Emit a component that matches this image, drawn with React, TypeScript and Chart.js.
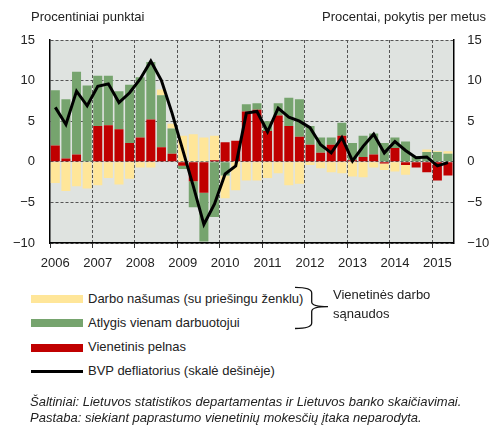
import React, { useEffect, useRef } from "react";
import { Chart, registerables } from "chart.js";

Chart.register(...registerables);

// Quarterly categories 2006 Q1 – 2015 Q2
const categories = [
  "2006 I", "2006 II", "2006 III", "2006 IV",
  "2007 I", "2007 II", "2007 III", "2007 IV",
  "2008 I", "2008 II", "2008 III", "2008 IV",
  "2009 I", "2009 II", "2009 III", "2009 IV",
  "2010 I", "2010 II", "2010 III", "2010 IV",
  "2011 I", "2011 II", "2011 III", "2011 IV",
  "2012 I", "2012 II", "2012 III", "2012 IV",
  "2013 I", "2013 II", "2013 III", "2013 IV",
  "2014 I", "2014 II", "2014 III", "2014 IV",
  "2015 I", "2015 II",
];

// Vienetinis pelnas (percentage points)
const unitProfit = [
  2.0, 0.4, 0.9, 0.0,
  4.4, 4.5, 4.0, 2.3,
  3.0, 5.2, 1.8, 1.0,
  -0.5, -2.4, -3.8, 0.2,
  2.4, 2.6, 6.2, 6.4,
  3.8, 5.7, 4.4, 3.1,
  2.1, 1.1, 2.1, 3.2,
  0.2, 0.6, 0.9, -0.2,
  1.7, -0.4, -0.7, -1.3,
  -2.3, -1.7,
];

// Atlygis vienam darbuotojui (percentage points)
const compensation = [
  6.8, 7.3, 10.2, 9.4,
  6.2, 6.1, 4.7, 7.2,
  7.4, 7.1, 6.4, 3.1,
  -0.4, -3.2, -6.0, -6.8,
  -1.7, 0.0, 0.9, 0.8,
  1.2, 1.5, 3.5, 4.6,
  2.3, 1.9, 0.9, 1.6,
  2.1, 2.6, 2.6, 2.3,
  1.3, 2.5, 0.7, 1.2,
  1.2, 1.0,
];

// Darbo našumas (su priešingu ženklu) (percentage points)
const productivity = [
  -2.6, -3.6, -3.0, -3.3,
  -2.9, -2.0, -2.8, -2.1,
  -0.7, -0.7, 0.7, 0.6,
  3.2, 3.4, 3.0, 3.0,
  -2.8, -3.5, -2.3, -2.3,
  -2.0, -1.4, -2.9, -2.7,
  -0.4, -0.8, -1.3, -1.4,
  -1.8, -1.9, -0.7, -0.8,
  -1.2, -1.2, 0.0, 0.3,
  0.1, 0.3,
];

// BVP defliatorius (percent, y/y, right scale)
const deflator = [
  6.7, 4.6, 8.7, 6.9,
  9.3, 9.6, 7.3, 8.5,
  10.2, 12.4, 10.0, 6.0,
  1.5, -3.0, -7.7, -5.2,
  -1.5, -0.5, 6.0, 6.2,
  3.7, 6.6, 5.5, 5.0,
  4.2, 2.1, 1.1, 3.0,
  0.1, 1.9, 3.4, 1.1,
  2.5, 1.4, 0.5, 0.6,
  -0.5, -0.1,
];

const yMin = -10;
const yMax = 15;
const yStep = 5;

const YELLOW = "#FFE699";
const GREEN = "#76A46E";
const RED = "#C00000";
const PLOT_BG = "#DFE3E0";
const TEXT = "#222222";
const FONT = "'Liberation Sans', Arial, sans-serif";

const plotBackground = {
  id: "plotBackground",
  beforeDraw(chart: any) {
    const { ctx, chartArea } = chart;
    if (!chartArea) return;
    ctx.save();
    ctx.fillStyle = PLOT_BG;
    ctx.fillRect(chartArea.left, chartArea.top, chartArea.right - chartArea.left, chartArea.bottom - chartArea.top);
    ctx.restore();
  },
};

const fmt = (v: number) => (v < 0 ? "\u2212" + Math.abs(v) : String(v));

function ChartCanvas() {
  const ref = useRef<HTMLCanvasElement | null>(null);
  useEffect(() => {
    if (!ref.current) return;
    const tickFont = { family: FONT, size: 13 };
    const chart = new Chart(ref.current, {
      type: "bar",
      data: {
        labels: categories,
        datasets: [
          {
            type: "line",
            label: "BVP defliatorius (skalė dešinėje)",
            data: deflator,
            yAxisID: "y2",
            borderColor: "#000000",
            borderWidth: 3,
            pointRadius: 0,
            tension: 0,
            order: -1,
            stack: "line",
          } as any,
          {
            label: "Vienetinis pelnas",
            data: unitProfit,
            backgroundColor: RED,
            yAxisID: "y",
            stack: "s",
            borderWidth: 0,
          },
          {
            label: "Atlygis vienam darbuotojui",
            data: compensation,
            backgroundColor: GREEN,
            yAxisID: "y",
            stack: "s",
            borderWidth: 0,
          },
          {
            label: "Darbo našumas (su priešingu ženklu)",
            data: productivity,
            backgroundColor: YELLOW,
            yAxisID: "y",
            stack: "s",
            borderWidth: 0,
          },
        ],
      },
      options: {
        responsive: false,
        animation: false,
        events: [],
        layout: { padding: { top: 40, left: 0, right: 0, bottom: 0 } },
        datasets: { bar: { barPercentage: 0.85, categoryPercentage: 1 } },
        plugins: { legend: { display: false }, tooltip: { enabled: false }, title: { display: false } },
        scales: {
          x: {
            stacked: true,
            grid: {
              offset: true,
              color: (c: any) => (c.index % 4 === 0 && c.index > 0 ? "#555555" : "rgba(0,0,0,0)"),
              lineWidth: 1,
              drawTicks: true,
              tickLength: 5,
              tickColor: (c: any) => (c.index % 4 === 0 ? "#333333" : "rgba(0,0,0,0)"),
              tickBorderDash: [],
              borderDash: [3, 2],
            } as any,
            border: { display: true, color: "#000000", width: 1.5, dash: [3, 2] },
            ticks: {
              autoSkip: false,
              maxRotation: 0,
              minRotation: 0,
              padding: 8,
              color: TEXT,
              font: tickFont,
              callback: (_v: any, i: number) => (i % 4 === 0 ? categories[i].slice(0, 4) : ""),
            },
            afterFit: (s: any) => {
              s.height = 32;
            },
          },
          y: {
            stacked: true,
            position: "left",
            min: yMin,
            max: yMax,
            ticks: { stepSize: yStep, padding: 15, color: TEXT, font: tickFont, callback: (v: any) => fmt(Number(v)) },
            grid: { color: "#555555", lineWidth: 1, drawTicks: false, borderDash: [3, 2] } as any,
            border: { display: true, color: "#000000", width: 1.5, dash: [3, 2] },
            afterFit: (s: any) => {
              s.width = 50;
            },
          },
          y2: {
            position: "right",
            min: yMin,
            max: yMax,
            ticks: { stepSize: yStep, padding: 14, color: TEXT, font: tickFont, callback: (v: any) => fmt(Number(v)) },
            grid: { display: false, drawTicks: false },
            border: { display: true, color: "#000000", width: 1.5 },
            afterFit: (s: any) => {
              s.width = 36.7;
            },
          },
        },
      } as any,
      plugins: [plotBackground],
    });
    return () => chart.destroy();
  }, []);
  return <canvas ref={ref} width={490} height={275} style={{ position: "absolute", left: 0, top: 0, display: "block" }} />;
}

const textStyle: React.CSSProperties = {
  position: "absolute",
  fontFamily: FONT,
  fontSize: 13,
  lineHeight: "16px",
  color: TEXT,
  whiteSpace: "nowrap",
};

const legendItems = [
  { label: "Darbo našumas (su priešingu ženklu)", color: YELLOW, kind: "bar", cy: 299.3 },
  { label: "Atlygis vienam darbuotojui", color: GREEN, kind: "bar", cy: 323.3 },
  { label: "Vienetinis pelnas", color: RED, kind: "bar", cy: 347.7 },
  { label: "BVP defliatorius (skalė dešinėje)", color: "#000000", kind: "line", cy: 371.7 },
];

export default function App() {
  return (
    <div style={{ position: "absolute", left: 0, top: 0, width: 490, height: 426, background: "#ffffff", overflow: "hidden" }}>
      <ChartCanvas />
      <div style={{ ...textStyle, left: 31, top: 9 }}>Procentiniai punktai</div>
      <div style={{ ...textStyle, right: 4, top: 9 }}>Procentai, pokytis per metus</div>
      {legendItems.map((it) => (
        <React.Fragment key={it.label}>
          <div
            style={{
              position: "absolute",
              left: 31,
              width: 52,
              top: it.kind === "bar" ? it.cy - 4 : it.cy - 1.25,
              height: it.kind === "bar" ? 8 : 2.5,
              background: it.color,
            }}
          />
          <div style={{ ...textStyle, left: 88, top: it.cy - 8.5 }}>{it.label}</div>
        </React.Fragment>
      ))}
      <svg style={{ position: "absolute", left: 0, top: 0 }} width={490} height={426}>
        <path
          d="M295,287.3 Q311.7,287.3 311.7,293 L311.7,302 Q311.7,306.7 328,306.7 Q311.7,306.7 311.7,311.5 L311.7,323 Q311.7,328.5 295,328.5"
          fill="none"
          stroke="#111"
          strokeWidth={1.3}
        />
      </svg>
      <div style={{ ...textStyle, left: 333, top: 286.5 }}>Vienetinės darbo</div>
      <div style={{ ...textStyle, left: 333, top: 306 }}>sąnaudos</div>
      <div style={{ ...textStyle, left: 30, top: 393.5, fontStyle: "italic" }}>
        Šaltiniai: Lietuvos statistikos departamentas ir Lietuvos banko skaičiavimai.
      </div>
      <div style={{ ...textStyle, left: 30, top: 410, fontStyle: "italic" }}>
        Pastaba: siekiant paprastumo vienetinių mokesčių įtaka neparodyta.
      </div>
    </div>
  );
}
